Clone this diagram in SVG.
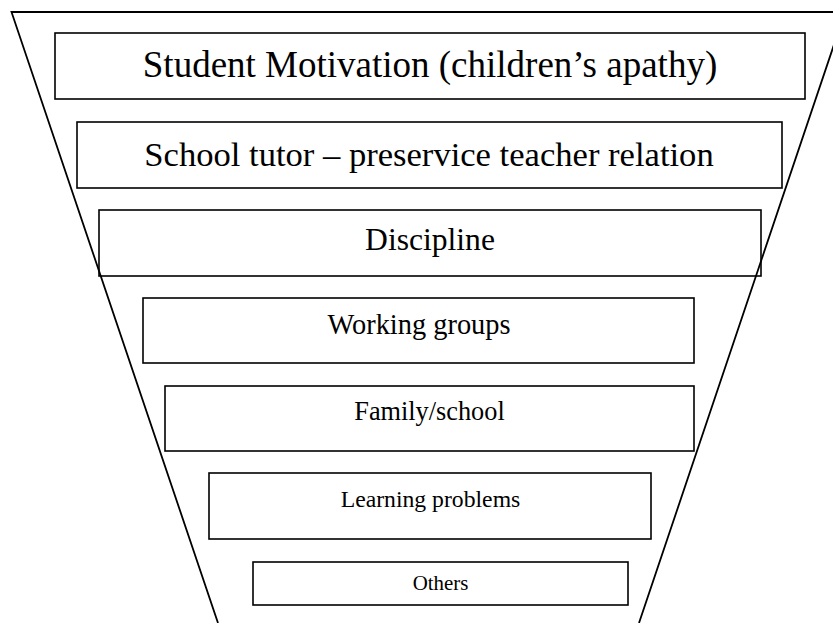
<svg xmlns="http://www.w3.org/2000/svg" width="833" height="623" viewBox="0 0 833 623">
<style>
.box{fill:#fff;stroke:#000;stroke-width:1.6}
.fl{fill:none;stroke:#000;stroke-width:1.8}
text{font-family:"Liberation Serif","Times New Roman",serif;fill:#000;text-anchor:middle}
</style>
<rect width="833" height="623" fill="#fff"/>
<g id="n1"><rect class="box" x="55" y="33" width="750" height="66"/><text x="430" y="77" font-size="37">Student Motivation (children’s apathy)</text></g>
<g id="n2"><rect class="box" x="77" y="122" width="705" height="66"/><text x="429" y="166" font-size="34.6">School tutor – preservice teacher relation</text></g>
<g id="n3"><rect class="box" x="99" y="210" width="662" height="66"/><text x="430" y="250" font-size="31.6">Discipline</text></g>
<g id="n4"><rect class="box" x="143" y="298" width="551" height="65"/><text x="419" y="334" font-size="28.4">Working groups</text></g>
<g id="n5"><rect class="box" x="165" y="386" width="529" height="65"/><text x="429.5" y="420" font-size="26.3">Family/school</text></g>
<g id="n6"><rect class="box" x="209" y="473" width="442" height="66"/><text x="430.5" y="507" font-size="23.7">Learning problems</text></g>
<g id="n7"><rect class="box" x="253" y="562" width="375" height="43"/><text x="440.5" y="590" font-size="20.9">Others</text></g>
<g id="funnel"><polyline class="fl" points="218,623 11.5,12 845,12 639,623"/></g>
</svg>
